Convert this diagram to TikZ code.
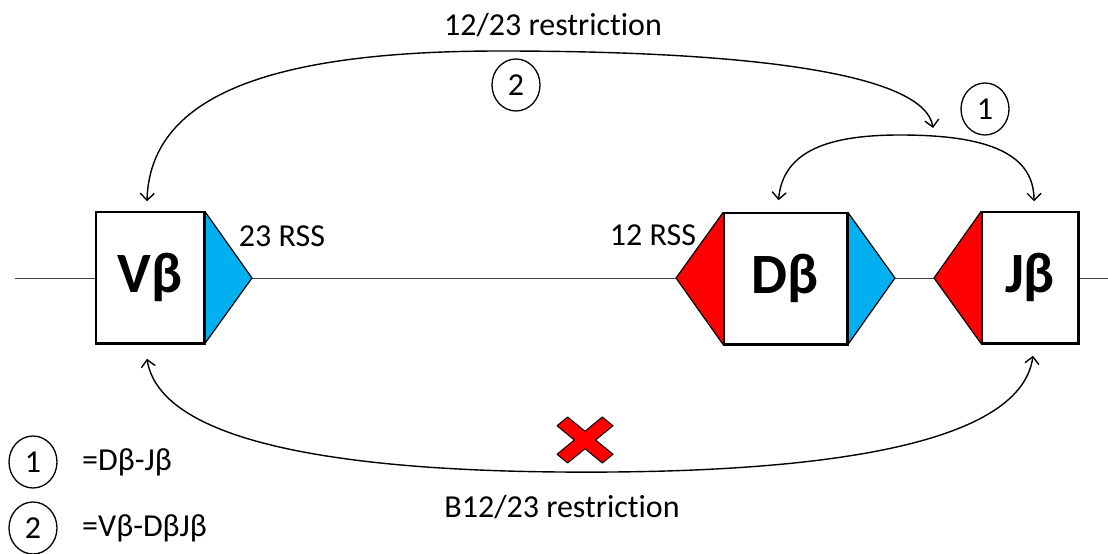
\documentclass[tikz,border=0pt]{standalone}
\usepackage{fontspec}
\setmainfont{Carlito}[Ligatures={NoCommon,NoRequired,NoContextual}]
\usetikzlibrary{arrows.meta,shapes.geometric}
\definecolor{rssblue}{RGB}{0,176,240}
\definecolor{rssred}{RGB}{255,0,0}
\tikzset{
  gene/.style={draw=black, line width=1.5pt, fill=white, minimum height=131pt,
    inner sep=0pt, font=\fontsize{57}{60}\selectfont\bfseries},
  rss/.style={draw=black, line width=1.2pt},
  link/.style={line width=1.4pt,
    {Straight Barb[length=7pt,width=14pt]}-{Straight Barb[length=7pt,width=14pt]}},
  label/.style={inner sep=0pt, font=\fontsize{32}{36}\selectfont},
  num/.style={draw=black, line width=1.3pt, ellipse, minimum width=48pt,
    minimum height=52pt, inner sep=0pt, font=\fontsize{32}{36}\selectfont},
}
\begin{document}
\begin{tikzpicture}[x=1pt,y=-1pt]
\useasboundingbox (0,0) rectangle (1108,554);

% chromosome strand
\coordinate (strandL) at (15,278);
\coordinate (strandR) at (1108,278);
\draw[line width=1pt, black!75] (strandL) -- (strandR);

% gene segments
\node[gene, minimum width=108pt] (V) at (150,277.5) {Vβ};
\node[gene, minimum width=123pt] (D) at (785.5,278.5) {Dβ};
\node[gene, minimum width=96pt]  (J) at (1030,277.5) {Jβ};

% recombination signal sequences
\fill[rssblue] (V.north east) -- (252,278) -- (V.south east) -- cycle;
\draw[rss] (V.north east) -- (252,278) -- (V.south east);
\fill[rssred] (D.north west) -- (676,278) -- (D.south west) -- cycle;
\draw[rss] (D.north west) -- (676,278) -- (D.south west);
\fill[rssblue] (D.north east) -- (895,278) -- (D.south east) -- cycle;
\draw[rss] (D.north east) -- (895,278) -- (D.south east);
\fill[rssred] (J.north west) -- (934,278) -- (J.south west) -- cycle;
\draw[rss] (J.north west) -- (934,278) -- (J.south west);
\draw[line width=1.5pt] (V.north west) rectangle (V.south east);
\draw[line width=1.5pt] (D.north west) rectangle (D.south east);
\draw[line width=1.5pt] (J.north west) rectangle (J.south east);

\node[label] (rss23) at (282,236) {23 RSS};
\node[label] (rss12) at (653,235) {12 RSS};

% step 1: D to J joining
\draw[link] ([xshift=-7pt,yshift=12pt]D.north) .. controls (783,150) and (830,135) ..
  (900,135) .. controls (980,135) and (1034,150) .. ([xshift=4pt,yshift=10pt]J.north);

% step 2: V to DJ joining
\coordinate (dj) at (933,128);
\draw[link] ([xshift=-3pt,yshift=10pt]V.north) .. controls (150,100) and (260,51) ..
  (500,51) .. controls (760,51) and (925,75) .. (dj);

% direct V to J joining (blocked)
\draw[link] ([xshift=-3pt,yshift=-15pt]V.south) .. controls (160,440) and (330,470) ..
  (560,472) .. controls (800,474) and (1020,450) .. ([xshift=3pt,yshift=-12pt]J.south);

\node[label] (top) at (553,25) {12/23 restriction};
\node[label] (bottom) at (562,507) {B12/23 restriction};
\node[num] (n2) at (516,85) {2};
\node[num] (n1) at (985,109) {1};

% blocked marker
\begin{scope}[shift={(585,440)}, x=28pt, y=-23pt]
  \filldraw[fill=rssred, draw=black, line width=1pt, line join=round]
    (-1,-0.62) -- (-0.62,-1) -- (0,-0.38) -- (0.62,-1) -- (1,-0.62) -- (0.38,0)
    -- (1,0.62) -- (0.62,1) -- (0,0.38) -- (-0.62,1) -- (-1,0.62) -- (-0.38,0) -- cycle;
\end{scope}

% legend
\node[num] (k1) at (33,462) {1};
\node[num] (k2) at (33,528) {2};
\node[label, anchor=west] (k1t) at (82,462) {=Dβ-Jβ};
\node[label, anchor=west] (k2t) at (82,528) {=Vβ-DβJβ};
\end{tikzpicture}
\end{document}
